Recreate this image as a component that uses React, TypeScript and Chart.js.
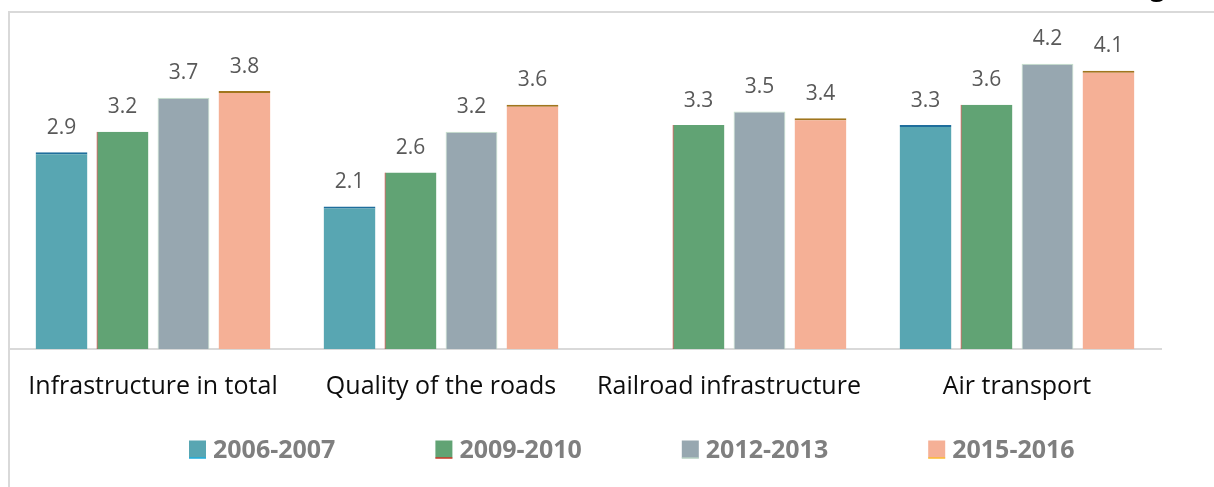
import React, { useEffect, useRef } from "react";
import { Chart, registerables } from "chart.js";

Chart.register(...registerables);

const categories = [
  "Infrastructure in total",
  "Quality of the roads",
  "Railroad infrastructure",
  "Air transport",
];
const seriesNames = ["2006-2007", "2009-2010", "2012-2013", "2015-2016"];
const values2006 = [2.9, 2.1, null, 3.3];
const values2009 = [3.2, 2.6, 3.3, 3.6];
const values2012 = [3.7, 3.2, 3.5, 4.2];
const values2015 = [3.8, 3.6, 3.4, 4.1];

const fills = ["#58A6B2", "#61A374", "#97A7B0", "#F5B096"];
const edges = ["#1F6E9C", "#C00000", "#C6E3CB", "#A0761E"];
const legendEdges = ["#00B0F0", "#FF0000", "#C6E3CB", "#FFC000"];
const edgeWidths = [
  { top: 2, left: 0, right: 0, bottom: 0 },
  { top: 0, left: 1, right: 0, bottom: 0 },
  { top: 1, left: 1, right: 1, bottom: 0 },
  { top: 2, left: 0, right: 0, bottom: 0 },
];

const FONT = "'Open Sans', 'Noto Sans', sans-serif";

const framePlugin = {
  id: "frame",
  beforeDraw(chart: any) {
    const ctx = chart.ctx;
    ctx.save();
    ctx.strokeStyle = "#D9D9D9";
    ctx.lineWidth = 2;
    ctx.beginPath();
    ctx.moveTo(9, chart.height);
    ctx.lineTo(9, 12);
    ctx.lineTo(chart.width, 12);
    ctx.stroke();
    ctx.fillStyle = "#000";
    ctx.font = "bold 26px " + FONT;
    ctx.textBaseline = "alphabetic";
    ctx.fillText("g", 1150, -4);
    ctx.restore();
  },
};

const valueLabels = {
  id: "valueLabels",
  afterDatasetsDraw(chart: any) {
    const ctx = chart.ctx;
    ctx.save();
    ctx.font = "21px " + FONT;
    ctx.fillStyle = "#595959";
    ctx.textAlign = "center";
    ctx.textBaseline = "alphabetic";
    chart.data.datasets.forEach((ds: any, i: number) => {
      const meta = chart.getDatasetMeta(i);
      meta.data.forEach((el: any, j: number) => {
        const v = ds.data[j];
        if (v === null || v === undefined) return;
        ctx.fillText(v.toFixed(1), el.x, el.y - 18.5);
      });
    });
    ctx.restore();
  },
};

const legendPlugin = {
  id: "customLegend",
  afterDraw(chart: any) {
    const ctx = chart.ctx;
    ctx.save();
    ctx.font = "bold 25px " + FONT;
    ctx.textBaseline = "middle";
    ctx.textAlign = "left";
    const gap = 100;
    const boxW = 17;
    const boxH = 18;
    const textGap = 7;
    let x = 189;
    const cy = 449.5;
    chart.data.datasets.forEach((ds: any, i: number) => {
      ctx.fillStyle = fills[i];
      ctx.fillRect(x, cy - boxH / 2, boxW, boxH);
      ctx.fillStyle = legendEdges[i];
      ctx.fillRect(x, cy + boxH / 2 - 1, boxW, 1);
      ctx.fillStyle = "#7F7F7F";
      ctx.fillText(ds.label, x + boxW + textGap, cy + 1);
      x += boxW + textGap + ctx.measureText(ds.label).width + gap;
    });
    ctx.restore();
  },
};

export default function App() {
  const ref = useRef<HTMLCanvasElement>(null);
  useEffect(() => {
    const all = [values2006, values2009, values2012, values2015];
    const chart = new Chart(ref.current!, {
      type: "bar",
      data: {
        labels: categories,
        datasets: all.map((d, i) => ({
          label: seriesNames[i],
          data: d,
          backgroundColor: fills[i],
          borderColor: edges[i],
          borderWidth: edgeWidths[i],
          borderSkipped: false,
          categoryPercentage: 0.847,
          barPercentage: 0.85,
        })),
      },
      options: {
        animation: false,
        responsive: true,
        maintainAspectRatio: false,
        layout: { padding: { left: 9, right: 53, top: 9.5, bottom: 61.7 } },
        scales: {
          x: {
            grid: { display: false, drawTicks: false },
            border: { display: true, color: "#D9D9D9", width: 2 },
            ticks: {
              color: "#0D0D0D",
              font: { family: FONT, size: 25 },
              padding: 23,
              maxRotation: 0,
              autoSkip: false,
            },
          },
          y: {
            display: false,
            min: 0,
            max: 5,
          },
        },
        plugins: {
          legend: { display: false },
          tooltip: { enabled: false },
        },
      },
      plugins: [framePlugin, valueLabels, legendPlugin],
    });
    return () => chart.destroy();
  }, []);
  return (
    <div style={{ position: "fixed", left: 0, top: 0, width: 1214, height: 487, background: "#fff" }}>
      <canvas ref={ref} />
    </div>
  );
}
